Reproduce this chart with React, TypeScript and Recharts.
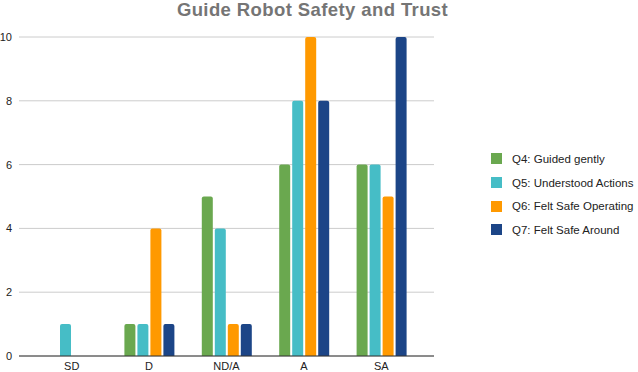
import React from 'react';
import { BarChart, Bar, XAxis, YAxis, CartesianGrid } from 'recharts';

const categories = ['SD', 'D', 'ND/A', 'A', 'SA'];
const q4Guided = [0, 1, 5, 6, 6];
const q5Understood = [1, 1, 4, 8, 6];
const q6SafeOperating = [0, 4, 1, 10, 5];
const q7SafeAround = [0, 1, 1, 8, 10];
const yTicks = [0, 2, 4, 6, 8, 10];

const seriesInfo = [
    { key: 'q4', name: 'Q4: Guided gently', color: '#6aa84f' },
    { key: 'q5', name: 'Q5: Understood Actions', color: '#46bdc6' },
    { key: 'q6', name: 'Q6: Felt Safe Operating', color: '#ff9900' },
    { key: 'q7', name: 'Q7: Felt Safe Around', color: '#1c4587' },
];

const data = categories.map((c, i) => ({
    name: c,
    q4: q4Guided[i],
    q5: q5Understood[i],
    q6: q6SafeOperating[i],
    q7: q7SafeAround[i],
}));

const font = 'Arial, "Liberation Sans", sans-serif';

const LegendBox: React.FC = () => (
    <div style={{ position: 'absolute', left: 491, top: 147, fontFamily: font, fontSize: 11.5, color: '#222' }}>
        {seriesInfo.map((s) => (
            <div key={s.key} style={{ display: 'flex', alignItems: 'center', height: 23.7 }}>
                <span style={{ width: 11, height: 11, background: s.color, display: 'inline-block', marginRight: 10 }} />
                <span>{s.name}</span>
            </div>
        ))}
    </div>
);

const App: React.FC = () => {
    return (
        <div style={{ position: 'absolute', left: 0, top: 0, width: 638, height: 372, background: '#fff' }}>
            <div
                style={{
                    position: 'absolute', left: 0, top: 0, width: 625, textAlign: 'center',
                    fontFamily: font, fontWeight: 'bold', fontSize: 18.5, letterSpacing: 0.4,
                    color: '#757575', lineHeight: '19px',
                }}
            >
                Guide Robot Safety and Trust
            </div>
            <BarChart
                width={638}
                height={372}
                data={data}
                margin={{ top: 37, right: 204, left: 0, bottom: 0 }}
                barCategoryGap="18%"
                barGap={2}
            >
                <CartesianGrid vertical={false} stroke="#cccccc" />
                <XAxis
                    dataKey="name"
                    height={16}
                    padding={{ left: 14, right: 14 }}
                    tickLine={false}
                    axisLine={{ stroke: '#333333' }}
                    tick={{ fill: '#222', fontSize: 11, fontFamily: font }}
                    tickMargin={0}
                    interval={0}
                />
                <YAxis
                    width={19}
                    domain={[0, 10]}
                    ticks={yTicks}
                    axisLine={false}
                    tickLine={false}
                    tickMargin={1}
                    tick={{ fill: '#222', fontSize: 11, fontFamily: font }}
                />
                {seriesInfo.map((s) => (
                    <Bar
                        key={s.key}
                        dataKey={s.key}
                        name={s.name}
                        fill={s.color}
                        barSize={11}
                        radius={[2, 2, 0, 0]}
                        isAnimationActive={false}
                    />
                ))}
            </BarChart>
            <LegendBox />
        </div>
    );
};

export default App;
